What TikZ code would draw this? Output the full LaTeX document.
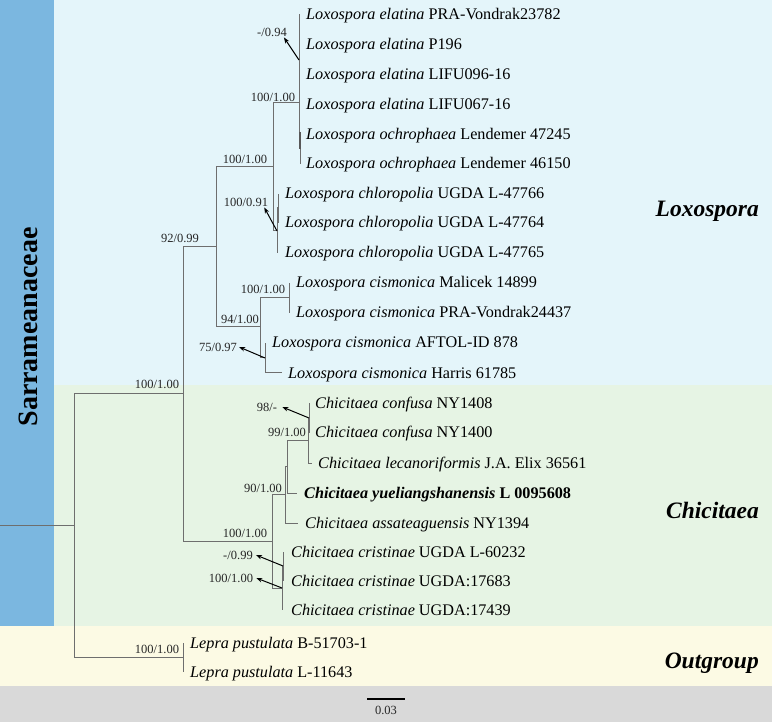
\documentclass[tikz,border=0pt]{standalone}
\usepackage{fontspec}
\setmainfont{Liberation Serif}
\usetikzlibrary{arrows.meta,calc}
\definecolor{bandblue}{RGB}{123,183,224}
\definecolor{loxbg}{RGB}{228,245,250}
\definecolor{chibg}{RGB}{230,244,228}
\definecolor{outbg}{RGB}{252,250,228}
\definecolor{footbg}{RGB}{217,217,217}
\definecolor{branch}{RGB}{110,110,110}
\newcommand\taxname[2]{\textit{#1} #2}
\tikzset{
  br/.style={draw=branch, line width=1pt},
  taxon/.style={anchor=base west, inner sep=0pt, font=\fontsize{16.2}{19}\selectfont},
  sup/.style={inner sep=1pt, font=\fontsize{12.5}{14}\selectfont, text=black!85},
  ptr/.style={draw=black, line width=1pt, -{Stealth[length=6pt,width=4.5pt]}},
  clade/.style={anchor=base east, inner sep=0pt, font=\fontsize{23.5}{28}\selectfont\bfseries\itshape},
}
\begin{document}
\begin{tikzpicture}[x=1pt,y=-1pt]
\useasboundingbox (0,0) rectangle (772,722);
% coloured panels
\fill[loxbg] (54,0) rectangle (772,385);
\fill[chibg] (54,385) rectangle (772,626);
\fill[bandblue] (0,0) rectangle (54,626);
\fill[outbg] (0,626) rectangle (772,686);
\fill[footbg] (0,686) rectangle (772,722);

% internal nodes
\coordinate (r0) at (0,525);
\coordinate (root) at (74,525);
\coordinate (sar) at (183,394);
\coordinate (lep) at (183,657);
\coordinate (lox) at (216,247);
\coordinate (chi) at (272,541);
\coordinate (lxA) at (273,167);
\coordinate (cis) at (260,327);
\coordinate (elo) at (299,103);
\coordinate (ela) at (299,60);
\coordinate (och) at (300,149);
\coordinate (chl) at (277,231);
\coordinate (chlS) at (278,208);
\coordinate (cisA) at (289,298);
\coordinate (cisB) at (265,358);
\coordinate (chC) at (285,494);
\coordinate (chD) at (287,466);
\coordinate (chE) at (308,440);
\coordinate (conf) at (309,418);
\coordinate (cri) at (282,588);
\coordinate (criA) at (283,566);

% tip ends
\coordinate (e1) at (299,14);
\coordinate (e2) at (299,45);
\coordinate (e3) at (299,75);
\coordinate (e4) at (299,105);
\coordinate (e5) at (300,135);
\coordinate (e6) at (300,164);
\coordinate (e7) at (278,194);
\coordinate (e8) at (278,223);
\coordinate (e9) at (277,253);
\coordinate (e10) at (289,283);
\coordinate (e11) at (289,313);
\coordinate (e12) at (265,343);
\coordinate (e13) at (282,373);
\coordinate (e14) at (309,403);
\coordinate (e15) at (309,433);
\coordinate (e16) at (312,463);
\coordinate (e17) at (297,493);
\coordinate (e18) at (298,523);
\coordinate (e19) at (283,552);
\coordinate (e20) at (283,581);
\coordinate (e21) at (282,610);
\coordinate (e22) at (183,643);
\coordinate (e23) at (183,672);

% branches
\draw[br] (r0) -- (root);
\foreach \p/\c in {root/sar, root/lep, sar/lox, sar/chi, lox/lxA, lox/cis,
  lxA/elo, lxA/chl, elo/ela, elo/och, ela/e1, ela/e2, ela/e3, ela/e4,
  och/e5, och/e6, chl/chlS, chl/e9, chlS/e7, chlS/e8,
  cis/cisA, cis/cisB, cisA/e10, cisA/e11, cisB/e12, cisB/e13,
  chi/chC, chi/cri, chC/chD, chC/e18, chD/chE, chD/e17, chE/conf, chE/e16,
  conf/e14, conf/e15, cri/criA, cri/e21, criA/e19, criA/e20, lep/e22, lep/e23}
  \draw[br] (\p) |- (\c);
% the short ochrophaea stem drawn a little heavier
\coordinate (ochT) at (300,132);
\draw[draw=branch!80!black, line width=1.6pt] (ochT) -- (och);

% taxa
\node[taxon] (t1) at (306,20) {\taxname{Loxospora elatina}{PRA-Vondrak23782}};
\node[taxon] (t2) at (306,50) {\taxname{Loxospora elatina}{P196}};
\node[taxon] (t3) at (306,80) {\taxname{Loxospora elatina}{LIFU096-16}};
\node[taxon] (t4) at (306,110) {\taxname{Loxospora elatina}{LIFU067-16}};
\node[taxon] (t5) at (306,140) {\taxname{Loxospora ochrophaea}{Lendemer 47245}};
\node[taxon] (t6) at (306,169) {\taxname{Loxospora ochrophaea}{Lendemer 46150}};
\node[taxon] (t7) at (285,199) {\taxname{Loxospora chloropolia}{UGDA L-47766}};
\node[taxon] (t8) at (285,228) {\taxname{Loxospora chloropolia}{UGDA L-47764}};
\node[taxon] (t9) at (285,258) {\taxname{Loxospora chloropolia}{UGDA L-47765}};
\node[taxon] (t10) at (296,288) {\taxname{Loxospora cismonica}{Malicek 14899}};
\node[taxon] (t11) at (296,318) {\taxname{Loxospora cismonica}{PRA-Vondrak24437}};
\node[taxon] (t12) at (272,348) {\taxname{Loxospora cismonica}{AFTOL-ID 878}};
\node[taxon] (t13) at (288,378) {\taxname{Loxospora cismonica}{Harris 61785}};
\node[taxon] (t14) at (315,408) {\taxname{Chicitaea confusa}{NY1408}};
\node[taxon] (t15) at (315,438) {\taxname{Chicitaea confusa}{NY1400}};
\node[taxon] (t16) at (318,468) {\taxname{Chicitaea lecanoriformis}{J.A. Elix 36561}};
\node[taxon,font=\fontsize{16.2}{19}\selectfont\bfseries] (t17) at (304,498) {\taxname{Chicitaea yueliangshanensis}{L 0095608}};
\node[taxon] (t18) at (305,528) {\taxname{Chicitaea assateaguensis}{NY1394}};
\node[taxon] (t19) at (291,557) {\taxname{Chicitaea cristinae}{UGDA L-60232}};
\node[taxon] (t20) at (291,586) {\taxname{Chicitaea cristinae}{UGDA:17683}};
\node[taxon] (t21) at (291,615) {\taxname{Chicitaea cristinae}{UGDA:17439}};
\node[taxon] (t22) at (190,648) {\taxname{Lepra pustulata}{B-51703-1}};
\node[taxon] (t23) at (190,677) {\taxname{Lepra pustulata}{L-11643}};

% support values
\node[sup] (s1) at (157,384) {100/1.00};
\node[sup] (s2) at (180,238) {92/0.99};
\node[sup] (s3) at (245,159) {100/1.00};
\node[sup] (s4) at (273,97) {100/1.00};
\node[sup] (s5) at (272,32) {-/0.94};
\node[sup] (s6) at (246,202) {100/0.91};
\node[sup] (s7) at (240,319) {94/1.00};
\node[sup] (s8) at (263,289) {100/1.00};
\node[sup] (s9) at (218,347) {75/0.97};
\node[sup] (s10) at (245,533) {100/1.00};
\node[sup] (s11) at (263,488) {90/1.00};
\node[sup] (s12) at (287,432) {99/1.00};
\node[sup] (s13) at (267,407) {98/-};
\node[sup] (s14) at (238,555) {-/0.99};
\node[sup] (s15) at (231,578) {100/1.00};
\node[sup] (s16) at (157,649) {100/1.00};

% pointers from short branches to their values
\draw[ptr] (ela) -- ($(s5.south east)+(-4,0)$);
\draw[ptr] (chl) -- ($(s6.south east)+(-5,0)$);
\draw[ptr] (cisB) -- ($(s9.east)+(1,0)$);
\draw[ptr] (conf) -- ($(s13.east)+(4,0)$);
\draw[ptr] (criA) -- ($(s14.east)+(2,0)$);
\draw[ptr] (cri) -- ($(s15.east)+(2,0)$);

% group labels
\node[clade] (cLox) at (759,217) {Loxospora};
\node[clade] (cChi) at (759,518) {Chicitaea};
\node[clade] (cOut) at (759,668) {Outgroup};
\node[rotate=90, inner sep=0pt, font=\fontsize{28}{32}\selectfont\bfseries] (fam) at (28,327) {Sarrameanaceae};

% scale bar
\coordinate (sb1) at (367,699);
\coordinate (sb2) at (405,699);
\draw[line width=2pt] (sb1) -- (sb2);
\node[sup] (sbl) at (386,710) {0.03};
\end{tikzpicture}
\end{document}
